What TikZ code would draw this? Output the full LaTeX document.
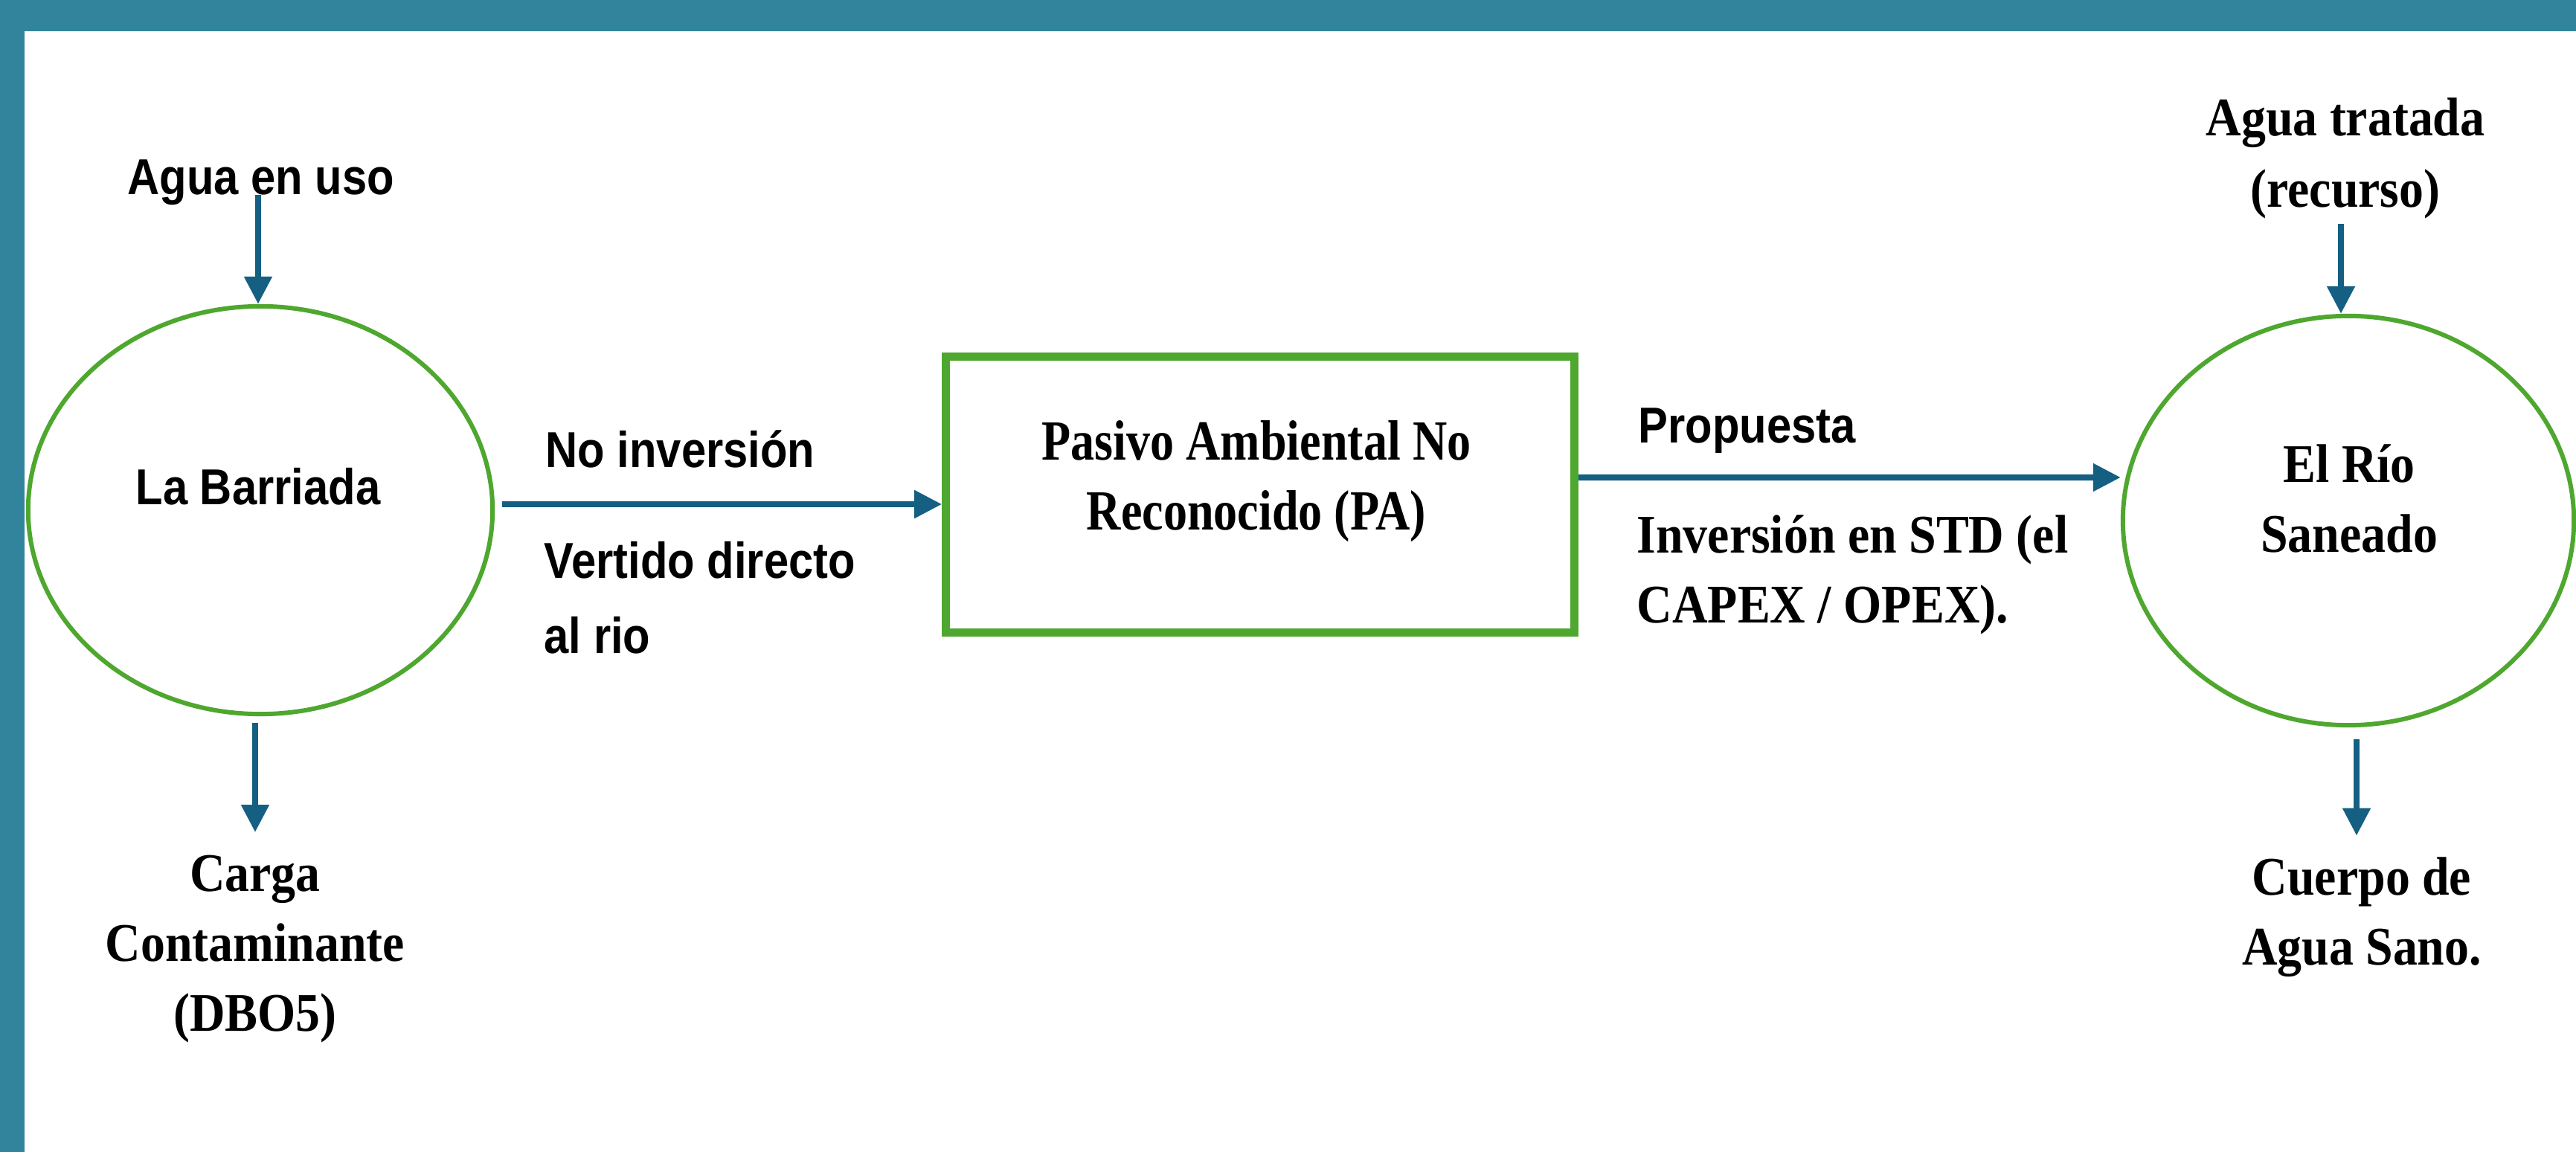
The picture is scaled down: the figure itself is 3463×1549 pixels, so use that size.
\documentclass[tikz,border=0pt]{standalone}
\usepackage{fontspec}
\usetikzlibrary{arrows.meta,shapes.geometric,calc}
\newfontfamily\fsans[FakeStretch=0.88]{Liberation Sans}
\newfontfamily\fserif[FakeStretch=0.9]{Liberation Serif}
\newfontfamily\fserifN[FakeStretch=0.84]{Liberation Serif}
\definecolor{tealband}{HTML}{31849B}
\definecolor{grn}{HTML}{4EA72E}
\definecolor{blu}{HTML}{156082}
\begin{document}
\begin{tikzpicture}[x=0.01cm,y=-0.01cm,
  ell/.style={draw=grn, line width=1.7pt, ellipse, inner sep=0pt},
  arr/.style={draw=blu, line width=2.3pt, -{Triangle[width=0.36cm,length=0.37cm]}},
  sanslab/.style={inner sep=0pt, font=\fsans\bfseries\fontsize{19.3pt}{28.7pt}\selectfont},
  serlab/.style={inner sep=0pt, align=center, font=\fserif\bfseries\fontsize{20.8pt}{26.7pt}\selectfont},
]
\useasboundingbox (0,0) rectangle (3463,1549);
\fill[white] (0,0) rectangle (3463,1549);
\fill[tealband] (0,0) rectangle (3463,42);
\fill[tealband] (0,0) rectangle (33,1549);

% shapes
\node[ell, minimum width=6.24cm, minimum height=5.48cm] (ellL) at (350,686) {};
\node[ell, minimum width=6.06cm, minimum height=5.50cm] (ellR) at (3157,700) {};
\node[draw=grn, line width=3pt, minimum width=8.445cm, minimum height=3.71cm] (box) at (1694,665) {};

% texts (anchor base = baseline of the last line)
\node[sanslab, anchor=base] (aguaU) at (351,262) {Agua en uso};
\node[sanslab, anchor=base] (barrT) at (347,678) {La Barriada};
\node[serlab, anchor=base] (carga) at (343,1386) {Carga\\Contaminante\\(DBO5)};
\node[sanslab, anchor=base west] (noinv) at (733,628) {No inversión};
\node[sanslab, anchor=base west, align=left] (vert) at (731,878) {Vertido directo\\al rio};
\node[sanslab, anchor=base west] (prop) at (2202,595) {Propuesta};
\node[serlab, align=left, anchor=base west] (inv) at (2200,837) {Inversión en STD (el\\CAPEX / OPEX).};
\node[inner sep=0pt, align=center, font=\fserifN\bfseries\fontsize{21.7pt}{26.7pt}\selectfont, anchor=base] (pasT) at (1689,712) {Pasivo Ambiental No\\Reconocido (PA)};
\node[serlab, anchor=base, font=\fserif\bfseries\fontsize{20.8pt}{27.3pt}\selectfont] (aguaT) at (3153,279) {Agua tratada\\(recurso)};
\node[serlab, anchor=base] (rioT) at (3158,742) {El Río\\Saneado};
\node[serlab, anchor=base] (cuerpo) at (3175,1297) {Cuerpo de\\Agua Sano.};

% connectors
\draw[arr] ([xshift=-0.03cm]ellL.north |- aguaU.base) -- ([xshift=-0.03cm]ellL.north);
\draw[arr, shorten <=0.09cm, shorten >=0.3cm] ([xshift=-0.07cm]ellL.south) -- ([xshift=-0.07cm]ellL.south |- carga.north);
\draw[arr, shorten <=0.1cm] ([yshift=0.08cm]ellL.east) -- ([yshift=0.08cm]ellL.east -| box.west);
\draw[arr] ([yshift=0.23cm]box.east) -- ([yshift=0.58cm]ellR.west);
\draw[arr, shorten <=0.06cm] ([xshift=-0.1cm]ellR.north |- aguaT.south) -- ([xshift=-0.1cm]ellR.north);
\draw[arr, shorten <=0.16cm, shorten >=0.28cm] ([xshift=0.11cm]ellR.south) -- ([xshift=0.11cm]ellR.south |- cuerpo.north);
\end{tikzpicture}
\end{document}
